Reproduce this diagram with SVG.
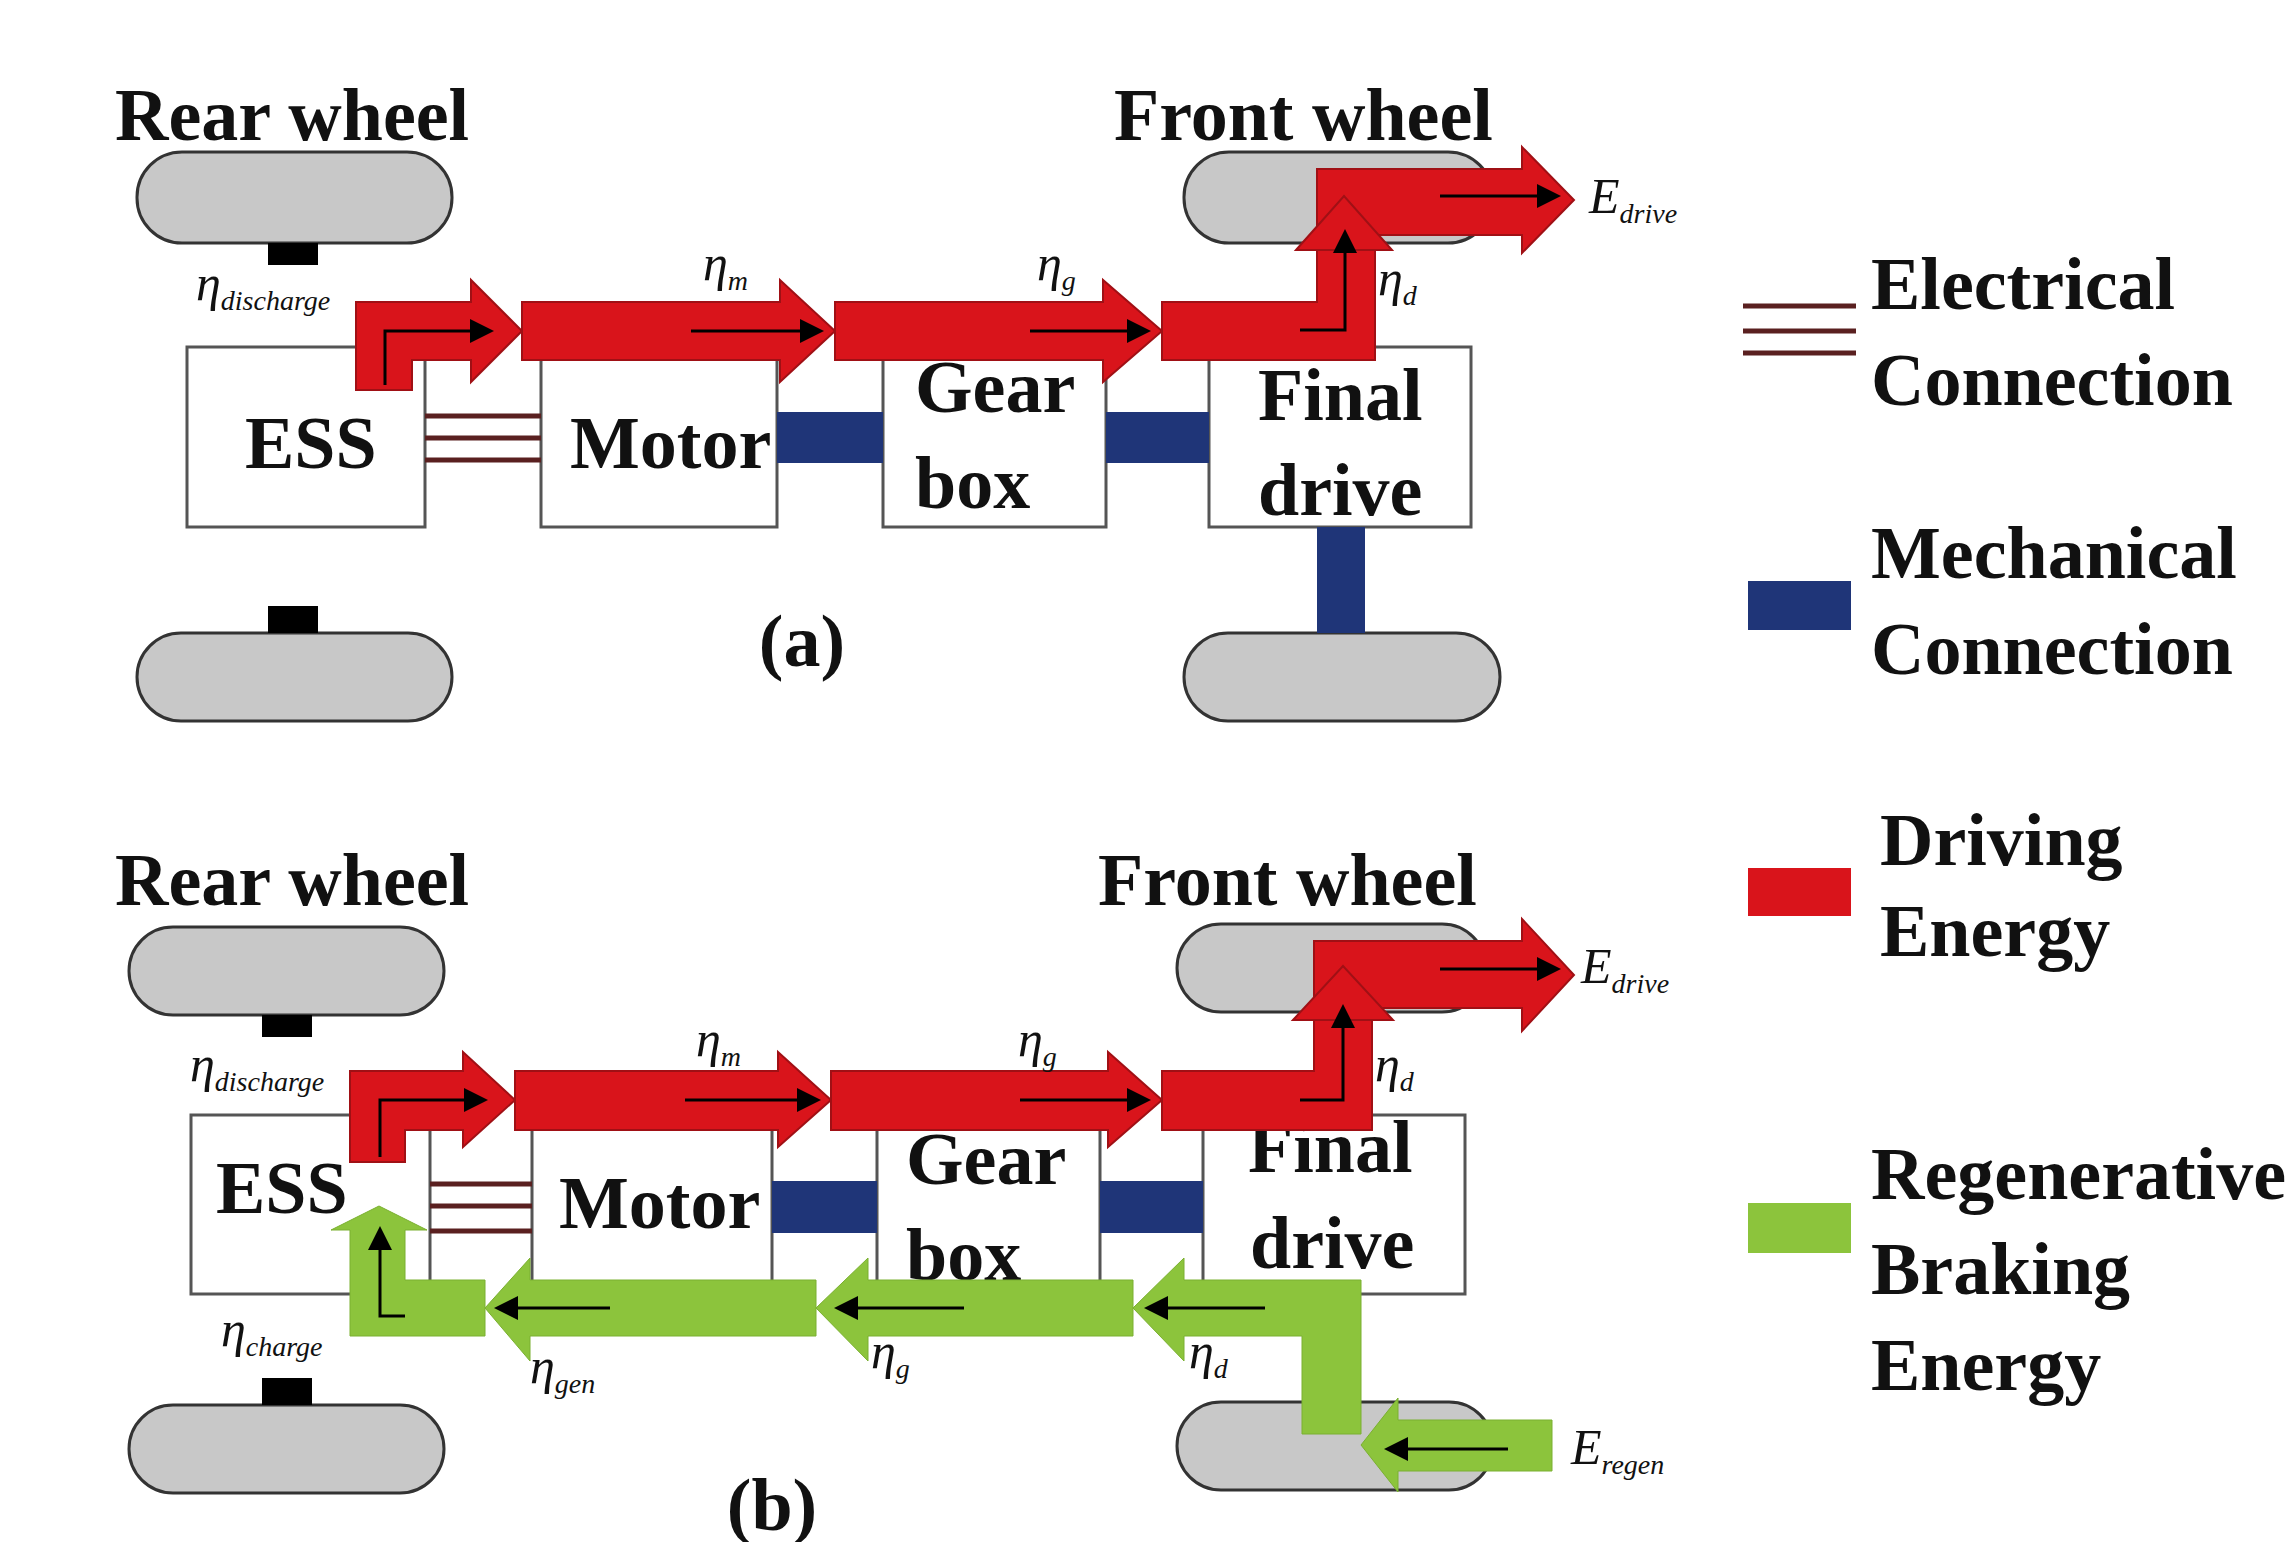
<svg xmlns="http://www.w3.org/2000/svg" width="2295" height="1542" viewBox="0 0 2295 1542">
<defs>
<style>
.t{font-family:"Liberation Serif",serif;font-weight:bold;font-size:74px;fill:#111}
.e{font-family:"Liberation Serif",serif;font-style:italic;font-size:50px;fill:#111}
.s{font-size:28px}
.box{fill:#fff;stroke:#555;stroke-width:3}
.wh{fill:#c8c8c8;stroke:#333;stroke-width:3}
.mech{fill:#1f3578}
.red{fill:#d9141b;stroke:#a01015;stroke-width:2}
.grn{fill:#8cc43c;stroke:#7ab030;stroke-width:1}
.el{stroke:#5a2020;stroke-width:5}
.th{stroke:#000;stroke-width:3;fill:none;marker-end:url(#ah)}
</style>
<marker id="ah" markerWidth="8" markerHeight="8" refX="6" refY="4" orient="auto" markerUnits="strokeWidth"><path d="M0,0 L8,4 L0,8 z" fill="#000"/></marker>
</defs>
<rect width="2295" height="1542" fill="#fff"/>

<g id="panel-a">
<text class="t" x="115" y="140">Rear wheel</text>
<text class="t" x="1114" y="140">Front wheel</text>
<g id="a-wheels">
<rect class="wh" x="137" y="152" width="315" height="91" rx="45"/>
<rect x="268" y="243" width="50" height="22" fill="#000"/>
<rect class="wh" x="137" y="633" width="315" height="88" rx="44"/>
<rect x="268" y="606" width="50" height="27" fill="#000"/>
<rect class="wh" x="1184" y="152" width="309" height="91" rx="45"/>
<rect class="wh" x="1184" y="633" width="316" height="88" rx="44"/>
</g>
<g id="a-ess"><rect class="box" x="187" y="347" width="238" height="180"/><text class="t" x="245" y="468">ESS</text></g>
<g id="a-motor"><rect class="box" x="541" y="347" width="236" height="180"/><text class="t" x="570" y="468">Motor</text></g>
<g id="a-gearbox"><rect class="box" x="883" y="347" width="223" height="180"/><text class="t" x="915" y="412">Gear</text><text class="t" x="915" y="508">box</text></g>
<g id="a-final"><rect class="box" x="1209" y="347" width="262" height="180"/><text class="t" x="1258" y="420">Final</text><text class="t" x="1258" y="515">drive</text></g>
<g id="a-connectors">
<line class="el" x1="425" y1="416" x2="541" y2="416"/><line class="el" x1="425" y1="438" x2="541" y2="438"/><line class="el" x1="425" y1="460" x2="541" y2="460"/>
<rect class="mech" x="777" y="412" width="106" height="51"/>
<rect class="mech" x="1106" y="412" width="103" height="51"/>
<rect class="mech" x="1317" y="527" width="48" height="106"/>
<polygon class="red" points="356,390 356,302 471,302 471,280 522,331 471,382 471,360 412,360 412,390"/>
<polygon class="red" points="522,302 780,302 780,280 835,331 780,382 780,360 522,360"/>
<polygon class="red" points="835,302 1103,302 1103,280 1162,331 1103,382 1103,360 835,360"/>
<polygon class="red" points="1162,302 1317,302 1317,169 1522,169 1522,147 1574,200 1522,253 1522,235 1375,235 1375,360 1162,360"/>
<polygon class="red" points="1296,250 1344,196 1392,250"/>
<polyline class="th" points="385,385 385,331 488,331"/>
<line class="th" x1="691" y1="331" x2="818" y2="331"/>
<line class="th" x1="1030" y1="331" x2="1145" y2="331"/>
<polyline class="th" points="1300,330 1345,330 1345,235"/>
<line class="th" x1="1440" y1="196" x2="1555" y2="196"/>
</g>
<text class="e" x="196" y="300">η<tspan class="s" dy="10">discharge</tspan></text>
<text class="e" x="703" y="280">η<tspan class="s" dy="10">m</tspan></text>
<text class="e" x="1037" y="280">η<tspan class="s" dy="10">g</tspan></text>
<text class="e" x="1378" y="295">η<tspan class="s" dy="10">d</tspan></text>
<text class="e" x="1589" y="213">E<tspan class="s" dy="10">drive</tspan></text>
<text class="t" x="802" y="666" text-anchor="middle" font-size="60">(a)</text>
</g>

<g id="panel-b">
<text class="t" x="115" y="905">Rear wheel</text>
<text class="t" x="1098" y="905">Front wheel</text>
<g id="b-wheels">
<rect class="wh" x="129" y="927" width="315" height="88" rx="44"/>
<rect x="262" y="1015" width="50" height="22" fill="#000"/>
<rect class="wh" x="129" y="1405" width="315" height="88" rx="44"/>
<rect x="262" y="1378" width="50" height="27" fill="#000"/>
<rect class="wh" x="1177" y="924" width="309" height="88" rx="44"/>
<rect class="wh" x="1177" y="1402" width="316" height="88" rx="44"/>
</g>
<g id="b-ess"><rect class="box" x="191" y="1115" width="239" height="179"/><text class="t" x="216" y="1213">ESS</text></g>
<g id="b-motor"><rect class="box" x="532" y="1115" width="240" height="179"/><text class="t" x="559" y="1228">Motor</text></g>
<g id="b-gearbox"><rect class="box" x="877" y="1115" width="223" height="179"/><text class="t" x="906" y="1184">Gear</text><text class="t" x="906" y="1280">box</text></g>
<g id="b-final"><rect class="box" x="1203" y="1115" width="262" height="179"/><text class="t" x="1248" y="1172">Final</text><text class="t" x="1250" y="1268">drive</text></g>
<g id="b-connectors">
<line class="el" x1="430" y1="1184" x2="532" y2="1184"/><line class="el" x1="430" y1="1206" x2="532" y2="1206"/><line class="el" x1="430" y1="1231" x2="532" y2="1231"/>
<rect class="mech" x="772" y="1181" width="105" height="52"/>
<rect class="mech" x="1100" y="1181" width="103" height="52"/>
<polygon class="red" points="350,1162 350,1071 463,1071 463,1052 515,1100 463,1147 463,1130 405,1130 405,1162"/>
<polygon class="red" points="515,1071 778,1071 778,1052 831,1100 778,1147 778,1130 515,1130"/>
<polygon class="red" points="831,1071 1108,1071 1108,1052 1162,1100 1108,1147 1108,1130 831,1130"/>
<polygon class="red" points="1162,1071 1314,1071 1314,941 1522,941 1522,919 1574,975 1522,1031 1522,1008 1372,1008 1372,1130 1162,1130"/>
<polygon class="red" points="1293,1020 1343,966 1393,1020"/>
<polyline class="th" points="380,1157 380,1100 482,1100"/>
<line class="th" x1="685" y1="1100" x2="815" y2="1100"/>
<line class="th" x1="1020" y1="1100" x2="1145" y2="1100"/>
<polyline class="th" points="1300,1100 1343,1100 1343,1010"/>
<line class="th" x1="1440" y1="969" x2="1555" y2="969"/>
<polygon class="grn" points="1361,1280 1361,1434 1302,1434 1302,1336 1184,1336 1184,1361 1133,1308 1184,1258 1184,1280"/>
<polygon class="grn" points="1552,1420 1398,1420 1398,1398 1361,1445 1398,1492 1398,1471 1552,1471"/>
<polygon class="grn" points="1133,1280 868,1280 868,1258 816,1308 868,1361 868,1336 1133,1336"/>
<polygon class="grn" points="816,1280 530,1280 530,1258 485,1308 530,1361 530,1336 816,1336"/>
<polygon class="grn" points="485,1280 405,1280 405,1230 427,1230 379,1206 331,1230 350,1230 350,1336 485,1336"/>
<polyline class="th" points="405,1316 380,1316 380,1232"/>
<line class="th" x1="610" y1="1308" x2="500" y2="1308"/>
<line class="th" x1="964" y1="1308" x2="840" y2="1308"/>
<line class="th" x1="1265" y1="1308" x2="1150" y2="1308"/>
<line class="th" x1="1508" y1="1449" x2="1390" y2="1449"/>
</g>
<text class="e" x="190" y="1081">η<tspan class="s" dy="10">discharge</tspan></text>
<text class="e" x="696" y="1056">η<tspan class="s" dy="10">m</tspan></text>
<text class="e" x="1018" y="1056">η<tspan class="s" dy="10">g</tspan></text>
<text class="e" x="1375" y="1081">η<tspan class="s" dy="10">d</tspan></text>
<text class="e" x="1581" y="983">E<tspan class="s" dy="10">drive</tspan></text>
<text class="e" x="221" y="1346">η<tspan class="s" dy="10">charge</tspan></text>
<text class="e" x="530" y="1383">η<tspan class="s" dy="10">gen</tspan></text>
<text class="e" x="871" y="1368">η<tspan class="s" dy="10">g</tspan></text>
<text class="e" x="1189" y="1368">η<tspan class="s" dy="10">d</tspan></text>
<text class="e" x="1571" y="1464">E<tspan class="s" dy="10">regen</tspan></text>
<text class="t" x="772" y="1530" text-anchor="middle" font-size="60">(b)</text>
</g>

<g id="legend">
<line class="el" x1="1743" y1="306" x2="1856" y2="306"/><line class="el" x1="1743" y1="331" x2="1856" y2="331"/><line class="el" x1="1743" y1="353" x2="1856" y2="353"/>
<text class="t" x="1871" y="309" font-size="64">Electrical</text><text class="t" x="1871" y="405" font-size="64">Connection</text>
<rect class="mech" x="1748" y="581" width="103" height="49"/>
<text class="t" x="1871" y="578" font-size="64">Mechanical</text><text class="t" x="1871" y="674" font-size="64">Connection</text>
<rect x="1748" y="868" width="103" height="48" fill="#d9141b"/>
<text class="t" x="1880" y="865" font-size="64">Driving</text><text class="t" x="1880" y="956" font-size="64">Energy</text>
<rect x="1748" y="1203" width="103" height="50" fill="#8cc43c"/>
<text class="t" x="1871" y="1199" font-size="64">Regenerative</text><text class="t" x="1871" y="1294" font-size="64">Braking</text><text class="t" x="1871" y="1390" font-size="64">Energy</text>
</g>
</svg>
